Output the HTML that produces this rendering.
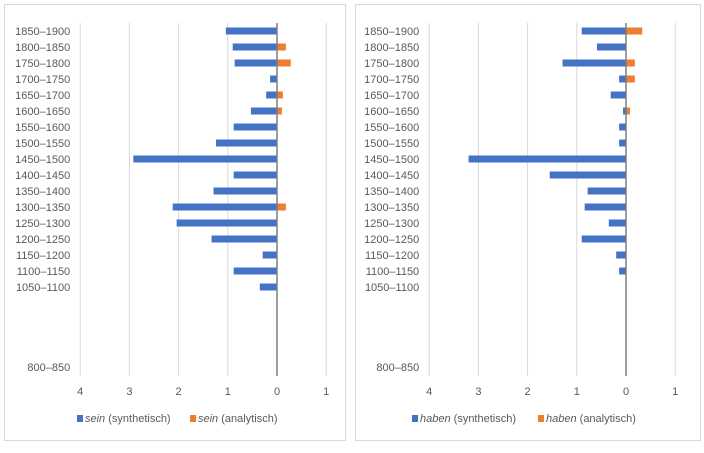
<!DOCTYPE html>
<html><head><meta charset="utf-8"><style>
body{margin:0;background:#fff;width:704px;height:448px;overflow:hidden;font-family:"Liberation Sans",sans-serif}
svg text{font-family:"Liberation Sans",sans-serif;fill:#595959}
</style></head><body>
<svg id="c" width="704" height="448"></svg>
<script>
const categories=["1850–1900","1800–1850","1750–1800","1700–1750","1650–1700","1600–1650","1550–1600","1500–1550","1450–1500","1400–1450","1350–1400","1300–1350","1250–1300","1200–1250","1150–1200","1100–1150","1050–1100","","","","","800–850"];
const seinSynth=[1.04,0.9,0.86,0.14,0.22,0.53,0.88,1.24,2.92,0.88,1.29,2.12,2.04,1.33,0.29,0.88,0.35,0,0,0,0,0];
const seinAnal=[0,0.18,0.28,0,0.12,0.1,0,0,0,0,0,0.18,0,0,0,0,0,0,0,0,0,0];
const habenSynth=[0.9,0.59,1.29,0.14,0.31,0.06,0.14,0.14,3.2,1.55,0.78,0.84,0.35,0.9,0.2,0.14,0,0,0,0,0,0];
const habenAnal=[0.33,0,0.18,0.18,0,0.08,0,0,0,0,0,0,0,0,0,0,0,0,0,0,0,0];
const tickValues=[-4,-3,-2,-1,0,1];
const tickLabels=["4","3","2","1","0","1"];
const NS="http://www.w3.org/2000/svg";
const svg=document.getElementById('c');
function mk(tag,attrs,parent){const e=document.createElementNS(NS,tag);for(const k in attrs)e.setAttribute(k,attrs[k]);(parent||svg).appendChild(e);return e;}
function panel(px,pw,zeroX,synth,anal,word,legX,legX2,name){
  const g=mk('g',{});
  
  
  const r=mk('rect',{x:px,y:4.5,width:pw,height:436,fill:'#fff',stroke:'#d9d9d9'},g);
  
  
  const unit=49.2;
  const xs=v=>zeroX+v*unit;
  const ys=i=>31+i*16;
  tickValues.forEach((t,i)=>{
    if(t!==0){const l=mk('line',{x1:xs(t),x2:xs(t),y1:23,y2:376,stroke:'#d9d9d9'},g);
    
    }
    const tx=mk('text',{x:xs(t),y:395,'font-size':11,'text-anchor':'middle'},g);tx.textContent=tickLabels[i];
    
    
  });
  categories.forEach((c,i)=>{
    const t=mk('text',{x:xs(-4)-10,y:ys(i)+4,'font-size':11,'text-anchor':'end'},g);t.textContent=c;
    
    
    if(synth[i]>0){const b=mk('rect',{x:xs(-synth[i]),y:ys(i)-3.5,width:synth[i]*unit,height:7,fill:'#4472c4'},g);
      
      }
    if(anal[i]>0){const b=mk('rect',{x:xs(0),y:ys(i)-3.5,width:anal[i]*unit,height:7,fill:'#ed7d31'},g);
      
      }
  });
  const ax=mk('line',{x1:xs(0),x2:xs(0),y1:23,y2:376,stroke:'#7f7f7f','stroke-width':1.5},g);
  
  
  [['#4472c4','synthetisch',legX],['#ed7d31','analytisch',legX2]].forEach(([col,lab,lx])=>{
    const s=mk('rect',{x:lx,y:415,width:6,height:7,fill:col},g);
    
    
    const t=mk('text',{x:lx+8,y:422,'font-size':11},g);
    
    
    const i=mk('tspan',{'font-style':'italic'},t);i.textContent=word;
    const n=mk('tspan',{},t);n.textContent=' ('+lab+')';
  });
}
panel(4.5,341,277,seinSynth,seinAnal,'sein',77,190,'sein-chart');
panel(355.5,345,626,habenSynth,habenAnal,'haben',412,538,'haben-chart');
</script>
</body></html>
